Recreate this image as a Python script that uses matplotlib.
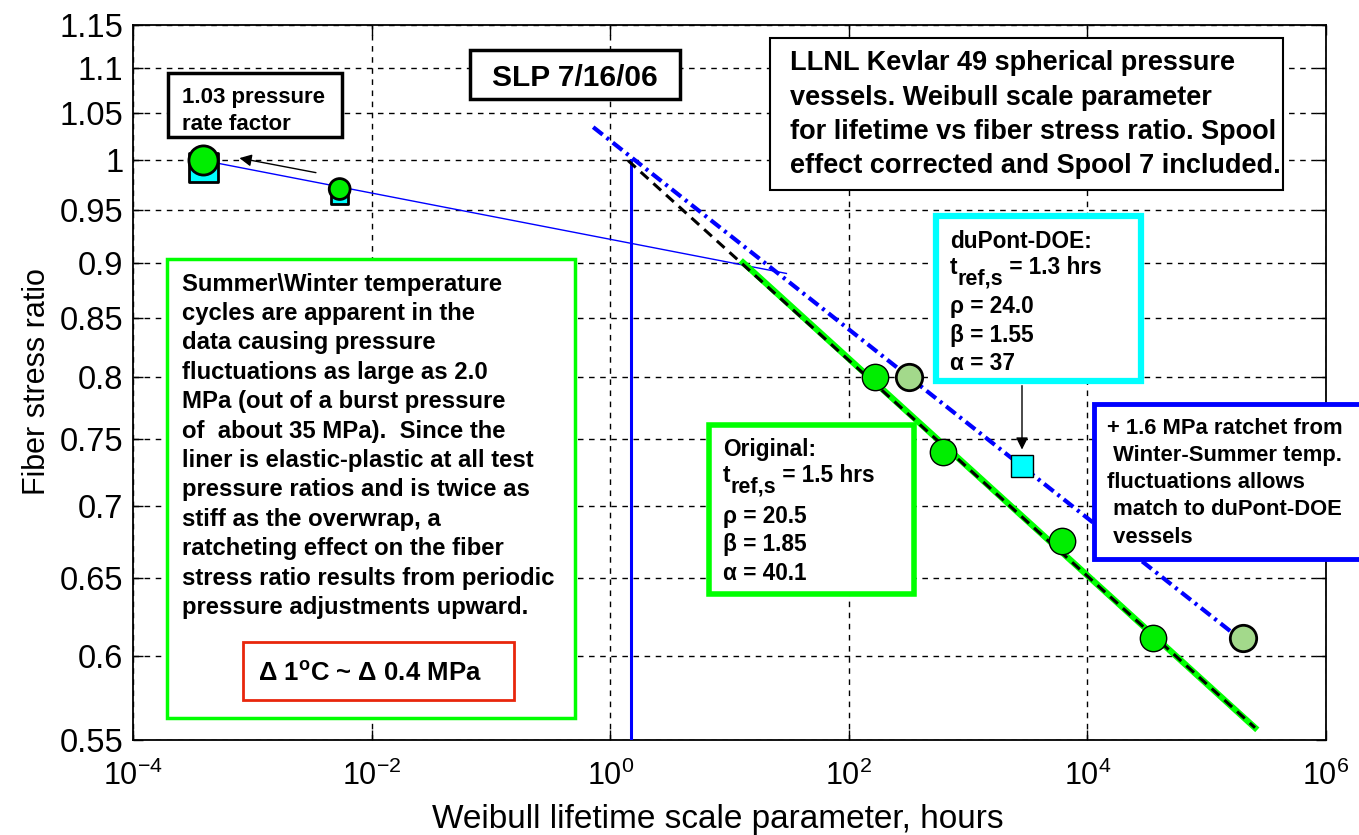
import numpy as np
import matplotlib
matplotlib.use("Agg")
import matplotlib.pyplot as plt
from matplotlib.patches import Rectangle
from matplotlib.ticker import FixedLocator, FixedFormatter, NullLocator

plt.rcParams['font.family'] = ['Liberation Sans', 'DejaVu Sans']

# data
orig_t = [166, 618, 6120, 35500]            # original fit points (hours)
orig_r = [0.800, 0.740, 0.675, 0.611]
shift_t = [320, 2.0e5]                      # ratchet-shifted points
shift_r = [0.800, 0.611]
early_t = [3.9e-4, 5.4e-3]                  # pressure rate points
early_r = [1.000, 0.971]
early_sq_r = [0.993, 0.964]
dupont_t = [2830]
dupont_r = [0.730]

fit_t = [1.41, 2.54e5]                      # black dashed fit (rho = 20.5)
fit_r = [1.000, 0.557]
green_t = [13.0, 2.54e5]
green_r = [0.900, 0.557]
dup_fit_t = [0.72, 1.6e5]                   # blue dash-dot (rho = 24)
dup_fit_r = [1.035, 0.615]
rate_t = [3.9e-4, 30.0]                     # thin blue line
rate_r = [1.000, 0.890]
tref_t = [1.5, 1.5]
tref_r = [0.55, 1.0]

yticks = [0.55, 0.6, 0.65, 0.7, 0.75, 0.8, 0.85, 0.9, 0.95, 1.0, 1.05, 1.1, 1.15]
ylabels = ['0.55', '0.6', '0.65', '0.7', '0.75', '0.8', '0.85', '0.9', '0.95', '1', '1.05', '1.1', '1.15']
xticks = [1e-4, 1e-2, 1e0, 1e2, 1e4, 1e6]
xlabels = [r'10$^{\mathregular{-4}}$', r'10$^{\mathregular{-2}}$', r'10$^{\mathregular{0}}$',
           r'10$^{\mathregular{2}}$', r'10$^{\mathregular{4}}$', r'10$^{\mathregular{6}}$']

W, H = 1359, 835
fig = plt.figure(figsize=(W / 100, H / 100), dpi=100)
ax = fig.add_axes([133 / W, 1 - 740 / H, (1326 - 133) / W, (740 - 25) / H])
ax.set_xscale('log')
ax.set_yscale('log')
ax.set_xlim(1e-4, 1e6)
ax.set_ylim(0.55, 1.15)

ax.yaxis.set_major_locator(FixedLocator(yticks))
ax.yaxis.set_major_formatter(FixedFormatter(ylabels))
ax.yaxis.set_minor_locator(NullLocator())
ax.xaxis.set_major_locator(FixedLocator(xticks))
ax.xaxis.set_major_formatter(FixedFormatter(xlabels))
ax.xaxis.set_minor_locator(NullLocator())
ax.tick_params(axis='both', which='major', direction='in', length=7, width=1,
               top=True, right=True, labelsize=23.5, colors='black')
ax.tick_params(axis='x', labelsize=22, pad=15)
ax.tick_params(axis='y', pad=7)
ax.grid(True, color='black', linestyle=(0, (4, 4)), linewidth=1)
for s in ax.spines.values():
    s.set_linewidth(1.3)

# lines
ax.plot(rate_t, rate_r, color='blue', lw=1, zorder=3)
ax.plot(tref_t, tref_r, color='blue', lw=2.2, zorder=3)
ax.plot(green_t, green_r, color='#00ff00', lw=4.5, zorder=3)
ax.plot(fit_t, fit_r, color='black', lw=2.2, linestyle=(0, (3.4, 2.2)), zorder=4)
ax.plot(dup_fit_t, dup_fit_r, color='blue', lw=3, linestyle=(0, (2.9, 1.2, 0.7, 1.2)), zorder=4)

# markers
ax.scatter(early_t, early_sq_r, s=[21 ** 2, 12 ** 2], marker='s', c='#00ffff',
           edgecolors='black', linewidths=2, zorder=5)
ax.scatter(early_t, early_r, s=[21 ** 2, 15 ** 2], marker='o', c='#00ee00',
           edgecolors='black', linewidths=2, zorder=6)
ax.plot(orig_t, orig_r, 'o', ms=19, mfc='#00ee00', mec='black', mew=1, zorder=6)
ax.plot(shift_t, shift_r, 'o', ms=19, mfc='#a3d98b', mec='black', mew=2, zorder=6)
ax.plot(dupont_t, dupont_r, 's', ms=16, mfc='#00ffff', mec='black', mew=1, zorder=6)

# arrows
ax.annotate('', xy=(7.4e-4, 1.003), xytext=(3.6e-3, 0.987),
            arrowprops=dict(arrowstyle='-|>', color='black', lw=1, mutation_scale=18))
ax.annotate('', xy=(dupont_t[0], 0.740), xytext=(dupont_t[0], 0.795),
            arrowprops=dict(arrowstyle='-|>', color='black', lw=1, mutation_scale=18))

ax.set_xlabel('Weibull lifetime scale parameter, hours', fontsize=24)
ax.set_ylabel('Fiber stress ratio', fontsize=22)
ax.xaxis.set_label_coords((718 - 133) / 1193, -0.090)
ax.yaxis.set_label_coords(-0.068, (740 - 382) / 715)

renderer = fig.canvas.get_renderer()


def box(x0, y0, x1, y1, color, lw):
    fig.add_artist(Rectangle((x0 / W, 1 - y1 / H), (x1 - x0) / W, (y1 - y0) / H,
                             transform=fig.transFigure, facecolor='white',
                             edgecolor=color, linewidth=lw, zorder=5))


def write(x, centers, texts, size, ha='left'):
    for yc, t in zip(centers, texts):
        base = yc + 0.36 * size / 0.72
        fig.text(x / W, 1 - base / H, t, ha=ha, va='baseline', fontsize=size,
                 fontweight='bold', zorder=6)


def write_tref(x, yc, rest, size):
    # t with a nearly full-size, lowered "ref,s" subscript
    base = yc + 0.36 * size / 0.72
    t1 = fig.text(x / W, 1 - base / H, 't', va='baseline', fontsize=size,
                  fontweight='bold', zorder=6)
    x1 = t1.get_window_extent(renderer).x1
    t2 = fig.text(x1 / W, 1 - (base + 10) / H, 'ref,s', va='baseline', fontsize=size * 0.95,
                  fontweight='bold', zorder=6)
    x2 = t2.get_window_extent(renderer).x1
    fig.text(x2 / W, 1 - base / H, rest, va='baseline', fontsize=size,
             fontweight='bold', zorder=6)


# annotation boxes
box(168, 73, 342, 137, 'black', 2.5)
write(182, [95, 122], ['1.03 pressure', 'rate factor'], 16)

box(470, 50, 680, 99, 'black', 2.5)
write(575, [75], ['SLP 7/16/06'], 21.5, ha='center')

box(770, 38, 1283, 190, 'black', 1.5)
write(790, [60, 95, 129, 163],
      ['LLNL Kevlar 49 spherical pressure', 'vessels. Weibull scale parameter',
       'for lifetime vs fiber stress ratio. Spool', 'effect corrected and Spool 7 included.'], 19.5)

box(167, 259, 575, 718, '#00ff00', 2.5)
write(182, [282 + 29.4 * i for i in range(12)],
      ['Summer\\Winter temperature', 'cycles are apparent in the', 'data causing pressure',
       'fluctuations as large as 2.0', 'MPa (out of a burst pressure',
       'of  about 35 MPa).  Since the', 'liner is elastic-plastic at all test',
       'pressure ratios and is twice as', 'stiff as the overwrap, a',
       'ratcheting effect on the fiber', 'stress ratio results from periodic',
       'pressure adjustments upward.'], 17.2)

box(243, 642, 514, 700, '#e8260c', 2)
write(370, [672], [r'Δ 1$^{\mathregular{o}}$C ~ Δ 0.4 MPa'], 18.5, ha='center')

box(936, 216, 1141, 381, '#00ffff', 4.5)
write(950, [240, 305, 334, 362], ['duPont-DOE:', 'ρ = 24.0', 'β = 1.55', 'α = 37'], 16.3)
write_tref(950, 266, ' = 1.3 hrs', 16.3)

box(709, 425, 914, 594, '#00ff00', 4)
write(723, [448, 515, 543, 572], ['Original:', 'ρ = 20.5', 'β = 1.85', 'α = 40.1'], 16.3)
write_tref(723, 474, ' = 1.5 hrs', 16.3)

box(1094, 404, 1370, 559, 'blue', 3.5)
write(1107, [426, 453, 480, 507, 535],
      ['+ 1.6 MPa ratchet from', ' Winter-Summer temp.', 'fluctuations allows',
       ' match to duPont-DOE', ' vessels'], 15.8)

fig.savefig('out.png', dpi=100)
